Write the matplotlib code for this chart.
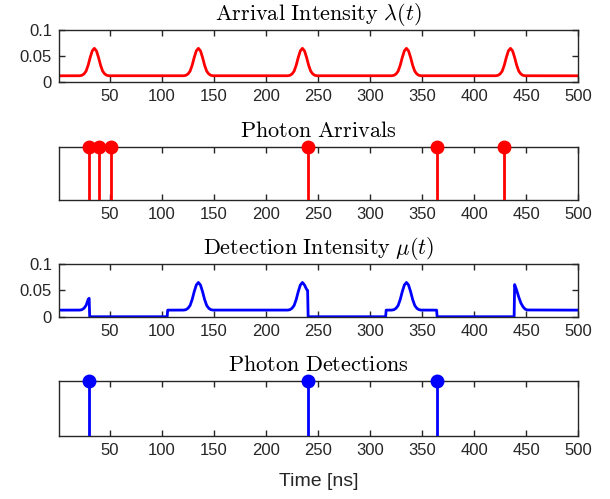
import matplotlib
matplotlib.use("Agg")
import matplotlib.pyplot as plt

plt.rcParams["font.family"] = ["Liberation Sans", "DejaVu Sans"]
plt.rcParams["mathtext.fontset"] = "cm"

# arrival intensity lambda(t)
lam_t = [1, 21, 23, 25, 27, 29, 31, 33, 35, 37, 39, 41, 43, 45, 47, 49,
         121, 123, 125, 127, 129, 131, 133, 135, 137, 139, 141, 143, 145, 147, 149,
         221, 223, 225, 227, 229, 231, 233, 235, 237, 239, 241, 243, 245, 247, 249,
         321, 323, 325, 327, 329, 331, 333, 335, 337, 339, 341, 343, 345, 347, 349,
         421, 423, 425, 427, 429, 431, 433, 435, 437, 439, 441, 443, 445, 447, 449, 500]
lam_v = [0.0125, 0.0126, 0.0134, 0.016, 0.0213, 0.0325, 0.0476, 0.0602, 0.065, 0.0602, 0.0476, 0.0325, 0.0213, 0.016, 0.0134, 0.0126,
         0.0126, 0.0134, 0.016, 0.0213, 0.0325, 0.0476, 0.0602, 0.065, 0.0602, 0.0476, 0.0325, 0.0213, 0.016, 0.0134, 0.0126,
         0.0126, 0.0134, 0.016, 0.0213, 0.0325, 0.0476, 0.0602, 0.065, 0.0602, 0.0476, 0.0325, 0.0213, 0.016, 0.0134, 0.0126,
         0.0126, 0.0134, 0.016, 0.0213, 0.0325, 0.0476, 0.0602, 0.065, 0.0602, 0.0476, 0.0325, 0.0213, 0.016, 0.0134, 0.0126,
         0.0126, 0.0134, 0.016, 0.0213, 0.0325, 0.0476, 0.0602, 0.065, 0.0602, 0.0476, 0.0325, 0.0213, 0.016, 0.0134, 0.0126, 0.0125]

# detection intensity mu(t), zero during dead time after each detection
mu_t = [1, 21, 23, 25, 27, 29, 30, 30.5, 105, 105.5,
        121, 123, 125, 127, 129, 131, 133, 135, 137, 139, 141, 143, 145, 147, 149,
        221, 223, 225, 227, 229, 231, 233, 235, 237, 239, 240, 240.5, 315, 315.5,
        321, 323, 325, 327, 329, 331, 333, 335, 337, 339, 341, 343, 345, 347, 349,
        364, 364.5, 438.5, 439, 441, 443, 445, 447, 449, 451, 500]
mu_v = [0.0125, 0.0126, 0.0134, 0.016, 0.0213, 0.0325, 0.035, 0.0, 0.0, 0.0125,
        0.0126, 0.0134, 0.016, 0.0213, 0.0325, 0.0476, 0.0602, 0.065, 0.0602, 0.0476, 0.0325, 0.0213, 0.016, 0.0134, 0.0126,
        0.0126, 0.0134, 0.016, 0.0213, 0.0325, 0.0476, 0.0602, 0.065, 0.0602, 0.052, 0.050, 0.0, 0.0, 0.0125,
        0.0126, 0.0134, 0.016, 0.0213, 0.0325, 0.0476, 0.0602, 0.065, 0.0602, 0.0476, 0.0325, 0.0213, 0.016, 0.0134, 0.0126,
        0.0125, 0.0, 0.0, 0.061, 0.050, 0.037, 0.026, 0.019, 0.0145, 0.0128, 0.0125]

arrivals = [30, 39, 51, 240, 364, 429]
detections = [30, 240, 364]

xticks = [50, 100, 150, 200, 250, 300, 350, 400, 450, 500]
yticks = [0, 0.05, 0.1]
ytick_labels = ["0", "0.05", "0.1"]

titles = [r"$\mathrm{Arrival\ Intensity}\ \lambda(t)$",
          r"$\mathrm{Photon\ Arrivals}$",
          r"$\mathrm{Detection\ Intensity}\ \mu(t)$",
          r"$\mathrm{Photon\ Detections}$"]

edge = "#262626"
fig = plt.figure(figsize=(6.1, 4.99), dpi=100)
left, width = 0.0967, 0.851
boxes = [(0.835, 0.1048), (0.599, 0.1068), (0.3653, 0.1056), (0.1269, 0.1096)]
axes = [fig.add_axes([left, b, width, h]) for b, h in boxes]

axes[0].plot(lam_t, lam_v, color="red", linewidth=2)
axes[2].plot(mu_t, mu_v, color="blue", linewidth=2)

for ax, pts, col in [(axes[1], arrivals, "red"), (axes[3], detections, "blue")]:
    ax.vlines(pts, 0, 1, color=col, linewidth=2, zorder=3)
    ax.plot(pts, [1] * len(pts), "o", color=col, markersize=9, clip_on=False, zorder=4)
    ax.set_ylim(0, 1)
    ax.set_yticks([])

for ax in (axes[0], axes[2]):
    ax.set_ylim(0, 0.1)
    ax.set_yticks(yticks)
    ax.set_yticklabels(ytick_labels)

for ax, title in zip(axes, titles):
    ax.set_xlim(1, 500)
    ax.set_xticks(xticks)
    ax.tick_params(direction="in", top=True, right=True, length=4, width=1,
                   colors=edge, labelsize=12, pad=5)
    for s in ax.spines.values():
        s.set_color(edge)
        s.set_linewidth(1)
    ax.set_title(title, fontsize=16, pad=7, color="black")

axes[3].set_xlabel("Time [ns]", fontsize=14, color=edge, labelpad=11)

fig.savefig("out.png", dpi=100)
